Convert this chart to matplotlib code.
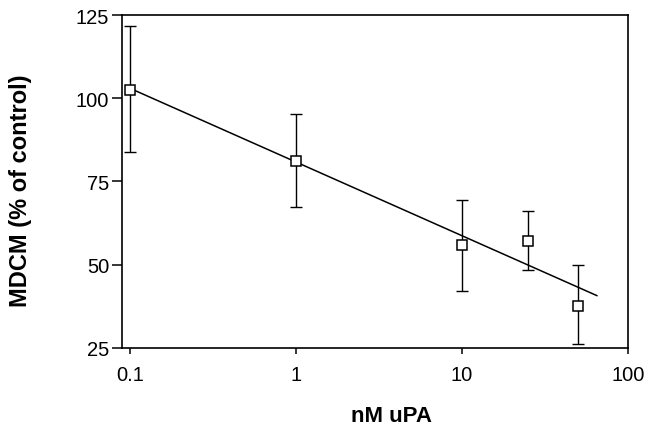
import numpy as np
import matplotlib.pyplot as plt

plt.rcParams['font.family'] = ['Liberation Sans', 'DejaVu Sans']

# data
upa_nm = [0.1, 1, 10, 25, 50]
mdcm = [102.5, 81.2, 55.8, 57.0, 37.5]
err_low = [18.7, 13.9, 13.8, 8.7, 11.2]
err_high = [19.3, 14.2, 13.5, 9.0, 12.3]

# regression line endpoints
fit_x = [0.1, 65]
fit_y = [103.0, 40.7]

fig = plt.figure(figsize=(6.48, 4.27), dpi=100)
ax = fig.add_axes([0.188, 0.183, 0.781, 0.7795])

ax.plot(fit_x, fit_y, color='black', lw=1.1, zorder=2)
ax.errorbar(upa_nm, mdcm, yerr=[err_low, err_high], fmt='none',
            ecolor='black', elinewidth=1.0, capsize=4, capthick=1.0, zorder=1)
ax.plot(upa_nm, mdcm, ls='none', marker='s', ms=7.5, mfc='white',
        mec='black', mew=1.1, zorder=3)

ax.set_xscale('log')
ax.set_xlim(0.0895, 100)
ax.set_ylim(25, 125)
ax.set_xticks([0.1, 1, 10, 100])
ax.set_xticklabels(['0.1', '1', '10', '100'])
ax.xaxis.set_minor_locator(plt.NullLocator())
ax.set_yticks([25, 50, 75, 100, 125])

for s in ax.spines.values():
    s.set_linewidth(1.2)
ax.tick_params(axis='both', direction='out', width=1.1, labelsize=14.5)
ax.tick_params(axis='x', length=4, pad=8)
ax.tick_params(axis='y', length=7, pad=2)

ax.set_xlabel('nM uPA', fontsize=16, fontweight='bold')
ax.set_ylabel('MDCM (% of control)', fontsize=17, fontweight='bold')
ax.xaxis.set_label_coords(0.532, -0.172)
ax.yaxis.set_label_coords(-0.178, 0.474)

fig.savefig('out.png', dpi=100)
